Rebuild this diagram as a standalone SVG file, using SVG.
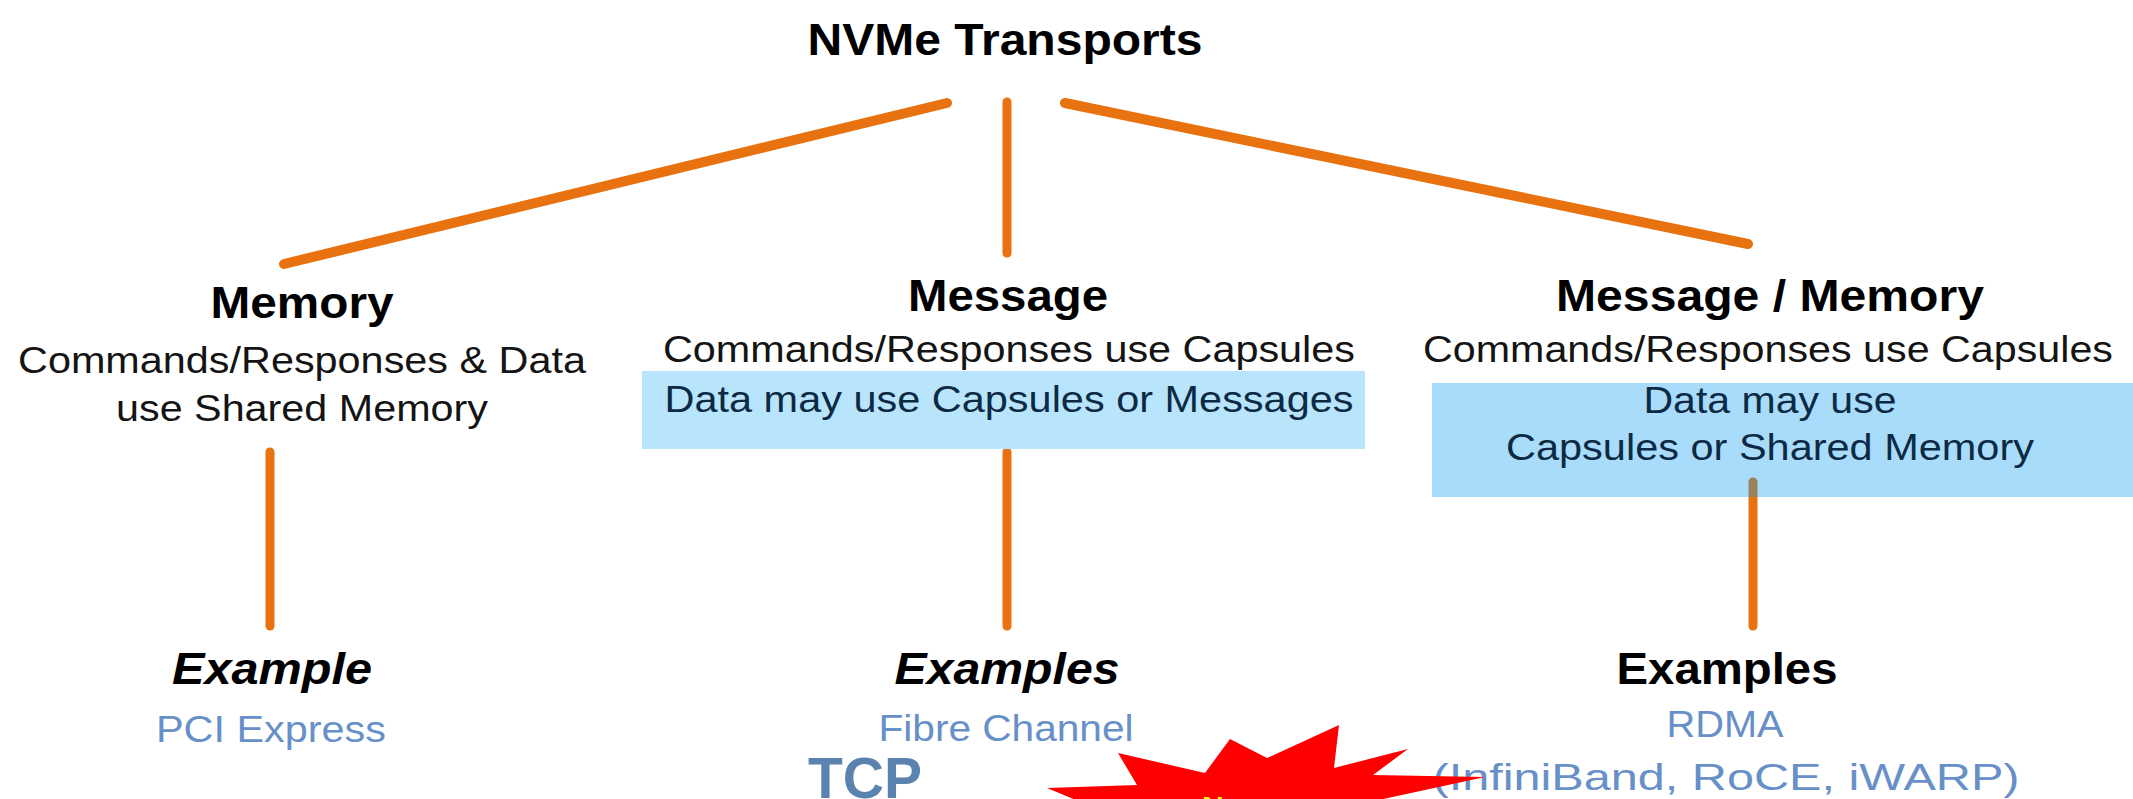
<svg xmlns="http://www.w3.org/2000/svg" width="2133" height="799" viewBox="0 0 2133 799">
<style>
  text { font-family: "Liberation Sans", Arial, sans-serif; text-anchor: middle; }
  .h { font-weight: bold; font-size: 44px; fill: #000; }
  .hi { font-weight: bold; font-style: italic; font-size: 44px; fill: #000; }
  .b { font-size: 37px; fill: #141414; }
  .bx { font-size: 37px; fill: #0c2a44; }
  .ex { font-size: 37px; fill: #6890c8; }
  .ln { stroke: #e8720f; stroke-linecap: round; fill: none; }
</style>
<rect x="0" y="0" width="2133" height="799" fill="#ffffff"/>
<g id="connectors">
  <line class="ln" x1="947" y1="103" x2="284" y2="264" stroke-width="10"/>
  <line class="ln" x1="1007" y1="102" x2="1007" y2="253" stroke-width="9"/>
  <line class="ln" x1="1065" y1="103" x2="1748" y2="244" stroke-width="10"/>
  <line class="ln" x1="270" y1="452" x2="270" y2="626" stroke-width="9"/>
  <line class="ln" x1="1007" y1="452" x2="1007" y2="626" stroke-width="9"/>
  <line class="ln" x1="1753" y1="482" x2="1753" y2="626" stroke-width="9"/>
</g>
<g id="root">
  <text class="h" x="1005" y="55" font-size="45" textLength="395" lengthAdjust="spacingAndGlyphs">NVMe Transports</text>
</g>
<g id="memory">
  <text class="h" x="302" y="318" textLength="183" lengthAdjust="spacingAndGlyphs">Memory</text>
  <text class="b" x="302" y="373" textLength="568" lengthAdjust="spacingAndGlyphs">Commands/Responses &amp; Data</text>
  <text class="b" x="302" y="421" textLength="372" lengthAdjust="spacingAndGlyphs">use Shared Memory</text>
</g>
<g id="message">
  <rect x="642" y="371" width="723" height="78" fill="#b8e4fc"/>
  <text class="h" x="1008" y="311" textLength="200" lengthAdjust="spacingAndGlyphs">Message</text>
  <text class="b" x="1009" y="362" textLength="692" lengthAdjust="spacingAndGlyphs">Commands/Responses use Capsules</text>
  <text class="bx" x="1009" y="412" textLength="689" lengthAdjust="spacingAndGlyphs">Data may use Capsules or Messages</text>
</g>
<g id="message-memory">
  <rect x="1432" y="383" width="701" height="114" fill="rgb(14,158,242)" fill-opacity="0.36"/>
  <text class="h" x="1770" y="311" textLength="428" lengthAdjust="spacingAndGlyphs">Message / Memory</text>
  <text class="b" x="1768" y="362" textLength="690" lengthAdjust="spacingAndGlyphs">Commands/Responses use Capsules</text>
  <text class="bx" x="1770" y="413" textLength="253" lengthAdjust="spacingAndGlyphs">Data may use</text>
  <text class="bx" x="1770" y="460" textLength="528" lengthAdjust="spacingAndGlyphs">Capsules or Shared Memory</text>
</g>
<g id="example-memory">
  <text class="hi" x="272" y="684" textLength="200" lengthAdjust="spacingAndGlyphs">Example</text>
  <text class="ex" x="271" y="742" textLength="230" lengthAdjust="spacingAndGlyphs">PCI Express</text>
</g>
<g id="example-message">
  <text class="hi" x="1007" y="684" textLength="225" lengthAdjust="spacingAndGlyphs">Examples</text>
  <text class="ex" x="1006" y="741" textLength="255" lengthAdjust="spacingAndGlyphs">Fibre Channel</text>
</g>
<g id="example-message-memory">
  <text class="h" x="1727" y="684" textLength="221" lengthAdjust="spacingAndGlyphs">Examples</text>
  <text class="ex" x="1725" y="737" textLength="117" lengthAdjust="spacingAndGlyphs">RDMA</text>
  <text class="ex" x="1726" y="790" textLength="587" lengthAdjust="spacingAndGlyphs">(InfiniBand, RoCE, iWARP)</text>
</g>
<g id="tcp">
  <text x="865" y="798" font-size="57" font-weight="bold" fill="#5a84af" textLength="114" lengthAdjust="spacingAndGlyphs">TCP</text>
</g>
<g id="starburst">
  <polygon points="1047,788 1137,785 1118,753 1205,773 1230,739 1267,758 1339,725 1334,768 1408,749 1373,775 1485,777 1337,809 1095,808" fill="#ff0000"/>
  <text x="1202" y="817" font-size="30" font-weight="bold" fill="#ffff00" style="text-anchor:start">N</text>
</g>
</svg>
